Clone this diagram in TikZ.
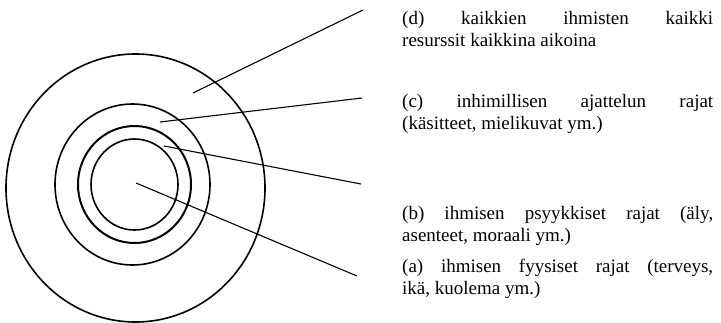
\documentclass[tikz,border=0pt]{standalone}
\usepackage{fontspec}
\setmainfont{Liberation Serif}
\begin{document}
\begin{tikzpicture}[x=1pt,y=-1pt,
  ring/.style={line width=1.6pt},
  leader/.style={line width=1.1pt},
  lbl/.style={text width=311pt, align=justify, inner sep=0pt, anchor=base west,
    font=\fontsize{19}{22.5}\selectfont}]
\useasboundingbox (0,0) rectangle (721,322);
% rings
\draw[ring] (135.5,188) ellipse [x radius=129.5pt, y radius=134pt];
\draw[ring] (132.5,184.5) ellipse [x radius=77.5pt, y radius=80.5pt];
\draw[ring, line width=2pt] (134.5,184.5) ellipse [x radius=56.5pt, y radius=58.5pt];
\draw[ring] (134.5,184.5) ellipse [x radius=43.5pt, y radius=45.5pt];
% leader start and end points
\coordinate (sd) at (193,93);
\coordinate (ed) at (363,10);
\coordinate (sc) at (160,122);
\coordinate (ec) at (362,98);
\coordinate (sb) at (164,146);
\coordinate (eb) at (361,184);
\coordinate (sa) at (136,183);
\coordinate (ea) at (357,276);
\draw[leader] (sd) -- (ed);
\draw[leader] (sc) -- (ec);
\draw[leader] (sb) -- (eb);
\draw[leader] (sa) -- (ea);
% labels
\node[lbl] (ld) at (402,24) {(d) kaikkien ihmisten kaikki\linebreak resurssit kaikkina aikoina};
\node[lbl] (lc) at (402,107) {(c) inhimillisen ajattelun rajat\linebreak (käsitteet, mielikuvat ym.)};
\node[lbl] (lb) at (402,219) {(b) ihmisen psyykkiset rajat (äly,\linebreak asenteet, moraali ym.)};
\node[lbl] (la) at (402,272) {(a) ihmisen fyysiset rajat (terveys,\linebreak ikä, kuolema ym.)};
\end{tikzpicture}
\end{document}
